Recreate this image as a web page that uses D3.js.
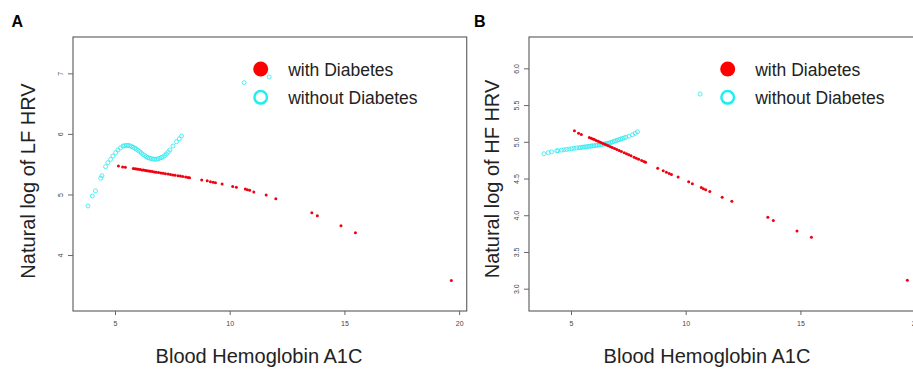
<!DOCTYPE html>
<html>
<head>
<meta charset="utf-8">
<script src="https://cdn.jsdelivr.net/npm/d3@7"></script>
<style>
  body { margin: 0; background: #fff; }
  text { font-family: "Liberation Sans", Arial, sans-serif; }
</style>
</head>
<body>
<div id="chart"></div>
<script>
// HbA1c of subjects with diabetes (shared by both panels)
var diabX = [5.15, 5.33, 5.45, 5.80, 5.88, 5.95, 6.02, 6.10, 6.18, 6.25, 6.33, 6.40, 6.48, 6.55,
  6.63, 6.72, 6.80, 6.90, 7.00, 7.10, 7.20, 7.32, 7.42, 7.52, 7.62, 7.75, 7.85, 7.95, 8.08, 8.18,
  8.25, 8.78, 9.02, 9.16, 9.28, 9.38, 9.67, 10.13, 10.29, 10.68, 10.77, 10.87, 11.05, 11.59,
  12.01, 13.58, 13.82, 14.85, 15.48, 19.66];
var diabLF = [5.47, 5.455, 5.45, 5.43, 5.425, 5.421, 5.416, 5.411, 5.406, 5.402, 5.397, 5.393,
  5.388, 5.384, 5.379, 5.373, 5.368, 5.362, 5.356, 5.349, 5.343, 5.336, 5.33, 5.323, 5.317,
  5.309, 5.303, 5.297, 5.289, 5.282, 5.278, 5.24, 5.228, 5.21, 5.20, 5.195, 5.173, 5.13, 5.12,
  5.09, 5.08, 5.07, 5.04, 4.99, 4.93, 4.70, 4.65, 4.485, 4.37, 3.58];
var diabHF = [5.15, 5.118, 5.10, 5.06, 5.049, 5.039, 5.03, 5.019, 5.008, 4.998, 4.987, 4.977,
  4.966, 4.957, 4.945, 4.933, 4.922, 4.908, 4.894, 4.881, 4.867, 4.85, 4.836, 4.823, 4.809,
  4.791, 4.777, 4.763, 4.745, 4.732, 4.722, 4.64, 4.605, 4.587, 4.568, 4.555, 4.519, 4.455,
  4.428, 4.378, 4.36, 4.346, 4.323, 4.246, 4.19, 3.974, 3.928, 3.787, 3.70, 3.116];

// HbA1c of subjects without diabetes
var nonX = [3.82, 4.01, 4.15, 4.38, 4.43, 4.59, 4.69, 4.81, 4.91, 5.03, 5.13, 5.24, 5.35, 5.42,
  5.50, 5.57, 5.64, 5.72, 5.79, 5.86, 5.93, 6.00, 6.08, 6.15, 6.22, 6.30, 6.37, 6.44, 6.51, 6.58,
  6.66, 6.73, 6.80, 6.88, 6.95, 7.02, 7.09, 7.17, 7.24, 7.32, 7.39, 7.53, 7.68, 7.80, 7.90,
  10.63, 11.72];
var nonLF = [4.81, 4.975, 5.06, 5.27, 5.31, 5.46, 5.525, 5.58, 5.635, 5.69, 5.735, 5.77, 5.80,
  5.807, 5.81, 5.81, 5.805, 5.793, 5.78, 5.765, 5.75, 5.73, 5.71, 5.685, 5.66, 5.64, 5.62, 5.61,
  5.60, 5.592, 5.585, 5.582, 5.58, 5.59, 5.60, 5.61, 5.62, 5.645, 5.67, 5.70, 5.735, 5.80, 5.87,
  5.92, 5.965, 6.845, 6.94];
var nonHF = [4.837, 4.852, 4.862, 4.877, 4.879, 4.886, 4.891, 4.896, 4.901, 4.906, 4.911, 4.916,
  4.92, 4.923, 4.926, 4.929, 4.932, 4.935, 4.938, 4.941, 4.944, 4.947, 4.95, 4.953, 4.956, 4.96,
  4.964, 4.968, 4.973, 4.978, 4.984, 4.99, 4.997, 5.006, 5.014, 5.021, 5.029, 5.037, 5.045,
  5.054, 5.062, 5.077, 5.095, 5.115, 5.136, 5.65, 5.98];

var xTicks = [5, 10, 15, 20];
var lfTicks = [4, 5, 6, 7];
var hfTicks = [3.0, 3.5, 4.0, 4.5, 5.0, 5.5, 6.0];
var legendLabels = ["with Diabetes", "without Diabetes"];

var svgWidth = 913;
var svgHeight = 370;

var svg = d3.select("#chart")
  .append("svg")
  .attr("width", svgWidth)
  .attr("height", svgHeight);

function drawPanel(p) {
  var xScale = d3.scaleLinear()
    .domain([3.17, 20.33])
    .range([p.left, p.left + 393.7]);

  var yScale = d3.scaleLinear()
    .domain(p.yDomain)
    .range([311, 37]);

  var g = svg.append("g");

  // plot box
  g.append("rect")
    .attr("x", p.left)
    .attr("y", 37)
    .attr("width", 393.7)
    .attr("height", 274)
    .attr("fill", "none")
    .attr("stroke", "#666")
    .attr("stroke-width", 1.2);

  var bottomAxis = d3.axisBottom(xScale)
    .tickValues(xTicks)
    .tickSize(4)
    .tickPadding(6);

  var xAxis = g.append("g")
    .attr("transform", "translate(0, 311)")
    .call(bottomAxis);
  xAxis.select(".domain").remove();
  xAxis.selectAll("line").attr("stroke", "#666");
  xAxis.selectAll("text")
    .attr("fill", "#444")
    .style("font-size", "7px");

  var leftAxis = d3.axisLeft(yScale)
    .tickValues(p.yTicks)
    .tickFormat(p.fmt)
    .tickSize(5);

  var yAxis = g.append("g")
    .attr("transform", `translate(${p.left}, 0)`)
    .call(leftAxis);
  yAxis.select(".domain").remove();
  yAxis.selectAll("line").attr("stroke", "#666");
  yAxis.selectAll("text")
    .attr("fill", "#444")
    .style("font-size", "7px")
    .attr("x", null)
    .attr("dy", null)
    .attr("text-anchor", "middle")
    .attr("transform", "translate(-13, 0) rotate(-90)")
    .attr("y", 2.5);

  // subjects without diabetes: open cyan circles
  g.selectAll(".non")
    .data(nonX)
    .enter()
    .append("circle")
    .attr("class", "non")
    .attr("cx", d => xScale(d))
    .attr("cy", (d, i) => yScale(p.nonY[i]))
    .attr("r", 2)
    .attr("fill", "none")
    .attr("stroke", "#2ee8ee")
    .attr("stroke-width", 0.8);

  // subjects with diabetes: small red dots
  g.selectAll(".diab")
    .data(diabX)
    .enter()
    .append("circle")
    .attr("class", "diab")
    .attr("cx", d => xScale(d))
    .attr("cy", (d, i) => yScale(p.diabY[i]))
    .attr("r", 1.5)
    .attr("fill", "#f00010");

  // legend
  var lx = p.legendX;
  g.append("circle")
    .attr("cx", lx)
    .attr("cy", 69)
    .attr("r", 7.5)
    .attr("fill", "#f00");
  g.append("circle")
    .attr("cx", lx)
    .attr("cy", 97.3)
    .attr("r", 6.3)
    .attr("fill", "#fff")
    .attr("stroke", "#22eeee")
    .attr("stroke-width", 2.5);

  g.selectAll(".legend")
    .data(legendLabels)
    .enter()
    .append("text")
    .attr("x", lx + 27.5)
    .attr("y", (d, i) => 75.5 + i * 28)
    .attr("fill", "#222")
    .style("font-size", "17.5px")
    .text(d => d);

  // axis titles
  g.append("text")
    .attr("x", p.xLabelX)
    .attr("y", 363)
    .attr("text-anchor", "middle")
    .attr("fill", "#222")
    .style("font-size", "20px")
    .text("Blood Hemoglobin A1C");

  g.append("text")
    .attr("transform", `translate(${p.yLabelX}, ${p.yLabelY}) rotate(-90)`)
    .attr("text-anchor", "middle")
    .attr("fill", "#222")
    .style("font-size", "20px")
    .text(p.yLabel);

  // panel letter
  g.append("text")
    .attr("x", p.letterX)
    .attr("y", 26.7)
    .attr("fill", "#000")
    .style("font-size", "16px")
    .style("font-weight", "bold")
    .text(p.letter);
}

drawPanel({
  left: 73,
  yDomain: [3.076, 7.6],
  yTicks: lfTicks,
  fmt: d3.format("d"),
  diabY: diabLF,
  nonY: nonLF,
  yLabel: "Natural log of LF HRV",
  yLabelX: 35,
  yLabelY: 181,
  xLabelX: 259,
  legendX: 260.7,
  letter: "A",
  letterX: 11.5
});

drawPanel({
  left: 529,
  yDomain: [2.696, 6.427],
  yTicks: hfTicks,
  fmt: d3.format(".1f"),
  diabY: diabHF,
  nonY: nonHF,
  yLabel: "Natural log of HF HRV",
  yLabelX: 499,
  yLabelY: 179,
  xLabelX: 707,
  legendX: 727.7,
  letter: "B",
  letterX: 474
});
</script>
</body>
</html>
